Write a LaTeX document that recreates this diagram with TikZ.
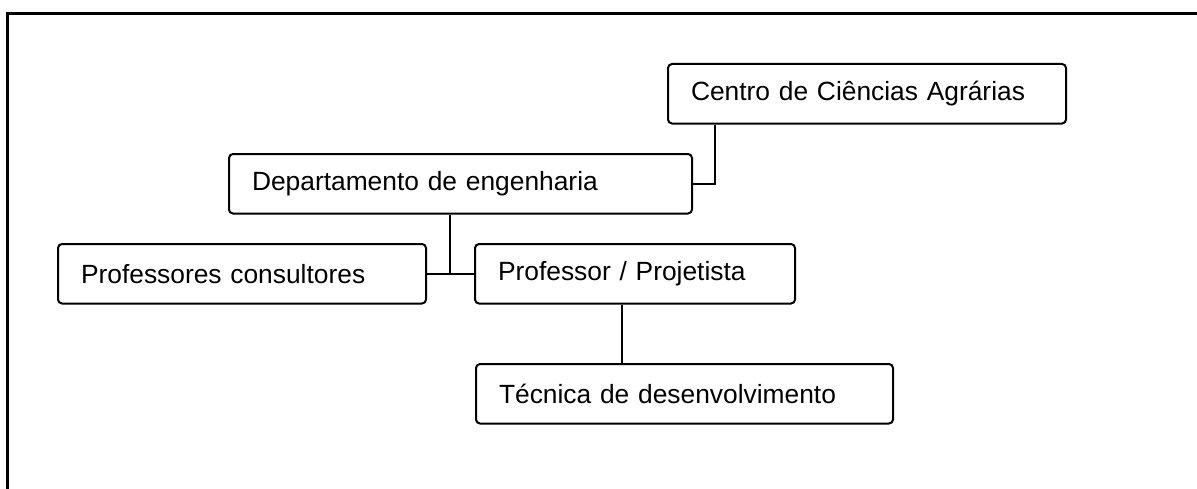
\documentclass[tikz,border=0pt]{standalone}
\usepackage{fontspec}
\setmainfont{Liberation Sans}
\usetikzlibrary{calc,positioning}
\tikzstyle{unit}=[rectangle,rounded corners=0.08cm,draw=black,line width=0.04cm,anchor=north west,
  inner xsep=0.46cm,inner ysep=0pt,minimum height=1.19cm,align=left,font=\fontsize{15}{17}\selectfont]

\begin{document}
\begin{tikzpicture}[line width=0.04cm]
    \useasboundingbox (0,0) rectangle (23.94,-9.76);
    \draw[line width=0.06cm](0.14,-9.9) -- (0.14,-0.28) -- (24.1,-0.28);

    \node[unit, text width=7.04cm](centro) at (13.34,-1.26){Centro de Ciências Agrárias};
    \node[unit, text width=8.34cm](depto) at (4.56,-3.06){Departamento de engenharia};
    \node[unit, text width=6.44cm](consult) at (1.14,-4.86){Professores consultores};
    \node[unit, text width=5.48cm](projet) at (9.48,-4.86){Professor / Projetista};
    \node[unit, text width=7.42cm](tecnica) at (9.50,-7.26){Técnica de desenvolvimento};

    \coordinate (cfoot) at ($(centro.south west)+(0.96,0)$);
    \coordinate (dfoot) at ($(depto.south west)+(4.44,0)$);
    \coordinate (pfoot) at ($(projet.south west)+(2.96,0)$);

    \draw(cfoot) |- (depto.east);
    \draw(dfoot) -- (dfoot |- projet.west);
    \draw(consult.east) -- (projet.west);
    \draw(pfoot) -- (pfoot |- tecnica.north);
  \end{tikzpicture}
\end{document}
